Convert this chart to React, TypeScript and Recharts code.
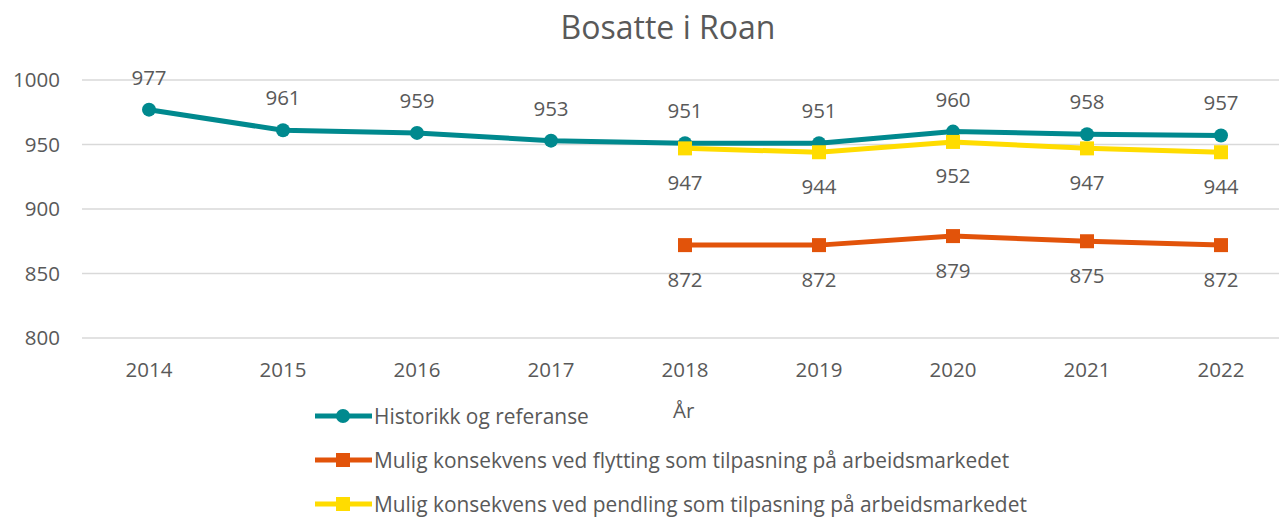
import React from 'react';
import { LineChart, Line, XAxis, YAxis, CartesianGrid, LabelList } from 'recharts';

const years = ['2014', '2015', '2016', '2017', '2018', '2019', '2020', '2021', '2022'];
const historikk = [977, 961, 959, 953, 951, 951, 960, 958, 957];
const flytting = [null, null, null, null, 872, 872, 879, 875, 872];
const pendling = [null, null, null, null, 947, 944, 952, 947, 944];
const yTicks = [800, 850, 900, 950, 1000];

const TEAL = '#00898E';
const ORANGE = '#E2530A';
const YELLOW = '#FFDC00';
const TEXT = '#595959';
const FONT = '"Open Sans", "Noto Sans", sans-serif';

const seriesInfo = [
  { key: 'historikk', name: 'Historikk og referanse', color: TEAL, shape: 'circle' },
  { key: 'flytting', name: 'Mulig konsekvens ved flytting som tilpasning på arbeidsmarkedet', color: ORANGE, shape: 'square' },
  { key: 'pendling', name: 'Mulig konsekvens ved pendling som tilpasning på arbeidsmarkedet', color: YELLOW, shape: 'square' },
];

const data = years.map((year, i) => ({
  year,
  historikk: historikk[i],
  flytting: flytting[i],
  pendling: pendling[i],
}));

function SquareDot(props: any) {
  const { cx, cy, stroke, value } = props;
  if (value == null || cx == null || cy == null) return null;
  return <rect x={cx - 7} y={cy - 7} width={14} height={14} fill={stroke} />;
}

// legend drawn outside the chart so it doesn't eat plot margins
function ChartLegend() {
  return (
    <div style={{ position: 'absolute', left: 315, top: 394, fontFamily: FONT, fontSize: 20.9, color: TEXT, whiteSpace: 'nowrap' }}>
      {seriesInfo.map((s) => (
        <div key={s.key} style={{ display: 'flex', alignItems: 'center', height: 44 }}>
          <svg width={59} height={16}>
            <line x1={0} y1={8} x2={57} y2={8} stroke={s.color} strokeWidth={5} />
            {s.shape === 'circle' ? (
              <circle cx={28} cy={8} r={7} fill={s.color} />
            ) : (
              <rect x={21} y={1} width={14} height={14} fill={s.color} />
            )}
          </svg>
          <span>{s.name}</span>
        </div>
      ))}
    </div>
  );
}

export default function App() {
  return (
    <div style={{ position: 'absolute', left: 0, top: 0, width: 1279, height: 517, overflow: 'hidden', background: '#fff' }}>
      <div style={{ position: 'absolute', left: 468, top: 5, width: 400, textAlign: 'center', fontFamily: FONT, fontSize: 32, color: TEXT }}>
        Bosatte i Roan
      </div>
      <div style={{ position: 'absolute', left: 673, top: 396, fontFamily: FONT, fontSize: 20.5, color: TEXT }}>År</div>
      <ChartLegend />
      <LineChart width={1300} height={517} data={data} margin={{ top: 80, right: 12, bottom: 149, left: 0 }}>
        <CartesianGrid vertical={false} stroke="#d9d9d9" strokeWidth={1.5} />
        <XAxis
          dataKey="year"
          axisLine={false}
          tickLine={false}
          tickSize={0}
          tickMargin={24}
          interval={0}
          height={30}
          padding={{ left: 67, right: 67 }}
          tick={{ fill: TEXT, fontSize: 20.5, fontFamily: FONT }}
        />
        <YAxis
          domain={[800, 1000]}
          ticks={yTicks}
          axisLine={false}
          tickLine={false}
          tickSize={0}
          tickMargin={22}
          width={82}
          tick={{ fill: TEXT, fontSize: 20.5, fontFamily: FONT }}
        />
        <Line
          dataKey="historikk"
          name={seriesInfo[0].name}
          stroke={TEAL}
          strokeWidth={5}
          dot={{ r: 7, fill: TEAL, stroke: TEAL, strokeWidth: 0 }}
          activeDot={false}
          isAnimationActive={false}
        >
          <LabelList dataKey="historikk" position="top" offset={25} fill={TEXT} fontSize={20.5} fontFamily={FONT} />
        </Line>
        <Line
          dataKey="flytting"
          name={seriesInfo[1].name}
          stroke={ORANGE}
          strokeWidth={5}
          dot={<SquareDot />}
          activeDot={false}
          isAnimationActive={false}
        >
          <LabelList dataKey="flytting" position="bottom" offset={27} fill={TEXT} fontSize={20.5} fontFamily={FONT} />
        </Line>
        <Line
          dataKey="pendling"
          name={seriesInfo[2].name}
          stroke={YELLOW}
          strokeWidth={5}
          dot={<SquareDot />}
          activeDot={false}
          isAnimationActive={false}
        >
          <LabelList dataKey="pendling" position="bottom" offset={27} fill={TEXT} fontSize={20.5} fontFamily={FONT} />
        </Line>
      </LineChart>
    </div>
  );
}
